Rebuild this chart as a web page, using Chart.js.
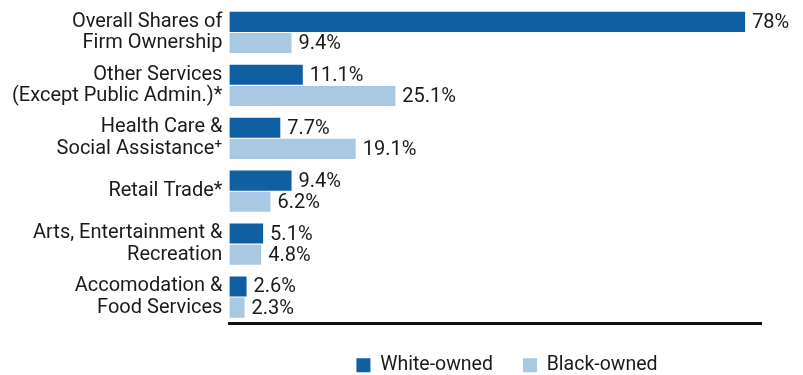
<!DOCTYPE html>
<html>
<head>
<meta charset="utf-8">
<script src="https://cdn.jsdelivr.net/npm/chart.js@4"></script>
<style>
  body { margin: 0; background: #fff; }
  #wrap { width: 803px; height: 375px; }
</style>
</head>
<body>
<div id="wrap"><canvas id="myChart"></canvas></div>
<script>
const categorias = [
  ['Overall Shares of', 'Firm Ownership'],
  ['Other Services', '(Except Public Admin.)*'],
  ['Health Care &', 'Social Assistance\u207A'],
  ['Retail Trade*'],
  ['Arts, Entertainment &', 'Recreation'],
  ['Accomodation &', 'Food Services']
]
const blancos = [78, 11.1, 7.7, 9.4, 5.1, 2.6]
const negros = [9.4, 25.1, 19.1, 6.2, 4.8, 2.3]

// etiquetas de valor al final de cada barra
const etiquetas = {
  id: 'etiquetas',
  afterDatasetsDraw(chart) {
    const ctx = chart.ctx
    ctx.save()
    ctx.font = '20px Roboto'
    ctx.fillStyle = '#1a1a1a'
    ctx.textBaseline = 'middle'
    chart.data.datasets.forEach((ds, i) => {
      chart.getDatasetMeta(i).data.forEach((bar, j) => {
        ctx.fillText(ds.data[j] + '%', bar.x + 7, bar.y + 1)
      })
    })
    ctx.restore()
  }
}

// mover la leyenda para que quede centrada bajo el grafico
const moverLeyenda = {
  id: 'moverLeyenda',
  afterLayout(chart) {
    const lg = chart.legend
    lg.left += 124
    lg.right += 124
  }
}

const ctx = document.getElementById('myChart')
new Chart(ctx, {
  type: 'bar',
  data: {
    labels: categorias,
    datasets: [{
      label: 'White-owned',
      data: blancos,
      backgroundColor: '#0f5fa3'
    }, {
      label: 'Black-owned',
      data: negros,
      backgroundColor: '#a9c8e2'
    }]
  },
  options: {
    indexAxis: 'y',
    responsive: true,
    maintainAspectRatio: false,
    animation: false,
    categoryPercentage: 0.8,
    barPercentage: 0.95,
    layout: { padding: { top: 6, right: 42, bottom: -10, left: 5 } },
    scales: {
      x: {
        min: 0,
        max: 80.4,
        grid: { display: false },
        ticks: { display: false },
        border: { display: true, color: '#111', width: 3 },
        afterFit(s) { s.height = Math.max(0, s.height - 6) }
      },
      y: {
        grid: { display: false, drawTicks: false },
        border: { display: false },
        ticks: {
          color: '#1a1a1a',
          font: { family: 'Roboto', size: 20, lineHeight: 1.08 },
          padding: 7
        },
        afterFit(s) { s.paddingTop = 0; s.paddingBottom = 0 }
      }
    },
    plugins: {
      legend: {
        position: 'bottom',
        labels: {
          boxWidth: 14,
          boxHeight: 14,
          padding: 30,
          color: '#1a1a1a',
          font: { family: 'Roboto', size: 19.5 }
        }
      },
      tooltip: { enabled: false }
    }
  },
  plugins: [etiquetas, moverLeyenda]
})
</script>
</body>
</html>
